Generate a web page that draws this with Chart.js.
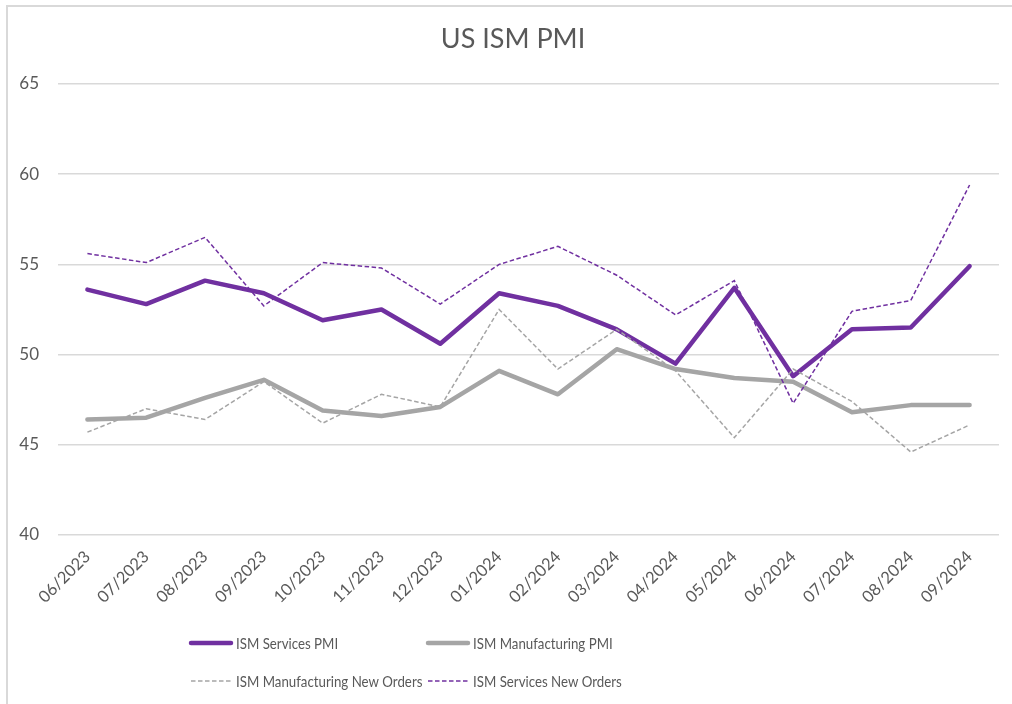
<!DOCTYPE html>
<html>
<head>
<meta charset="utf-8">
<script src="https://cdn.jsdelivr.net/npm/chart.js@4.4.1/dist/chart.umd.min.js"></script>
<style>
  html, body { margin: 0; padding: 0; background: #fff; }
  #wrap { position: relative; width: 1012px; height: 704px; overflow: hidden; }
  #frame { position: absolute; left: 6px; top: 5px; width: 1200px; height: 900px;
           border-top: 2px solid #D9D9D9; border-left: 2px solid #D9D9D9; box-sizing: border-box; }
  canvas { position: absolute; left: 0; top: 0; }
</style>
</head>
<body>
<div id="wrap">
  <div id="frame"></div>
  <canvas id="c" width="1012" height="704"></canvas>
</div>
<script>
const categories = ["06/2023","07/2023","08/2023","09/2023","10/2023","11/2023","12/2023",
                    "01/2024","02/2024","03/2024","04/2024","05/2024","06/2024","07/2024","08/2024","09/2024"];
const servicesPMI = [53.6, 52.8, 54.1, 53.4, 51.9, 52.5, 50.6, 53.4, 52.7, 51.4, 49.5, 53.7, 48.8, 51.4, 51.5, 54.9];
const manufacturingPMI = [46.4, 46.5, 47.6, 48.6, 46.9, 46.6, 47.1, 49.1, 47.8, 50.3, 49.2, 48.7, 48.5, 46.8, 47.2, 47.2];
const manufacturingNewOrders = [45.7, 47.0, 46.4, 48.5, 46.2, 47.8, 47.1, 52.5, 49.2, 51.4, 49.1, 45.4, 49.2, 47.4, 44.6, 46.1];
const servicesNewOrders = [55.6, 55.1, 56.5, 52.7, 55.1, 54.8, 52.8, 55.0, 56.0, 54.4, 52.2, 54.1, 47.3, 52.4, 53.0, 59.4];
const seriesNames = ["ISM Services PMI", "ISM Manufacturing PMI", "ISM Manufacturing New Orders", "ISM Services New Orders"];
const yTicks = [40, 45, 50, 55, 60, 65];
const titleText = "US ISM PMI";

const PURPLE = "#7030A0";
const GREY = "#A5A5A5";
const TEXT = "#595959";
const FONT = "Lato";

const titleLegendPlugin = {
  id: "titleLegend",
  afterDraw(chart) {
    const ctx = chart.ctx;
    ctx.save();
    // title
    ctx.fillStyle = TEXT;
    ctx.font = "27px " + FONT;
    ctx.textAlign = "center";
    ctx.textBaseline = "alphabetic";
    ctx.fillText(titleText, 513, 48);
    // legend
    const slots = [
      { x: 190, y: 643 }, { x: 427, y: 643 },
      { x: 190, y: 681 }, { x: 427, y: 681 }
    ];
    chart.data.datasets.forEach((ds, i) => {
      const s = slots[i];
      ctx.beginPath();
      ctx.strokeStyle = ds.borderColor;
      ctx.lineWidth = ds.borderWidth;
      ctx.lineCap = ds.borderDash && ds.borderDash.length ? "butt" : "round";
      ctx.setLineDash(ds.borderDash || []);
      ctx.moveTo(s.x + 1, s.y);
      ctx.lineTo(s.x + 41, s.y);
      ctx.stroke();
      ctx.setLineDash([]);
      ctx.save();
      ctx.translate(s.x + 46, s.y + 1);
      ctx.scale(0.83, 1);
      ctx.fillStyle = TEXT;
      ctx.font = "16px " + FONT;
      ctx.textBaseline = "middle";
      ctx.textAlign = "left";
      ctx.fillText(ds.label, 0, 0);
      ctx.restore();
    });
    ctx.restore();
  }
};

new Chart(document.getElementById("c"), {
  type: "line",
  data: {
    labels: categories,
    datasets: [
      { label: seriesNames[0], data: servicesPMI, borderColor: PURPLE, backgroundColor: PURPLE,
        borderWidth: 4.5, borderCapStyle: "round", borderJoinStyle: "round", pointRadius: 0, tension: 0, order: 4 },
      { label: seriesNames[1], data: manufacturingPMI, borderColor: GREY, backgroundColor: GREY,
        borderWidth: 4.5, borderCapStyle: "round", borderJoinStyle: "round", pointRadius: 0, tension: 0, order: 3 },
      { label: seriesNames[2], data: manufacturingNewOrders, borderColor: GREY, backgroundColor: GREY,
        borderWidth: 1.5, borderDash: [4.5, 2.5], pointRadius: 0, tension: 0, order: 2 },
      { label: seriesNames[3], data: servicesNewOrders, borderColor: PURPLE, backgroundColor: PURPLE,
        borderWidth: 1.5, borderDash: [4.5, 2.5], pointRadius: 0, tension: 0, order: 1 }
    ]
  },
  options: {
    responsive: false,
    animation: false,
    devicePixelRatio: 1,
    layout: { padding: { left: 0, right: 13, top: 84, bottom: 0 } },
    plugins: {
      legend: { display: false },
      tooltip: { enabled: false },
      title: { display: false }
    },
    scales: {
      x: {
        type: "category",
        offset: true,
        grid: { display: false, drawTicks: false },
        border: { display: false },
        ticks: { color: TEXT, font: { family: FONT, size: 16.5 }, minRotation: 45, maxRotation: 45,
                 autoSkip: false, padding: 12 },
        afterFit(scale) { scale.height = 169; }
      },
      y: {
        min: 40, max: 65,
        grid: { color: "#D9D9D9", lineWidth: 1.5, drawTicks: false },
        border: { display: false },
        afterBuildTicks(scale) { scale.ticks = yTicks.map(v => ({ value: v })); },
        ticks: { color: TEXT, font: { family: FONT, size: 17 }, padding: 19 },
        afterFit(scale) { scale.width = 58; }
      }
    }
  },
  plugins: [titleLegendPlugin]
});
</script>
</body>
</html>
